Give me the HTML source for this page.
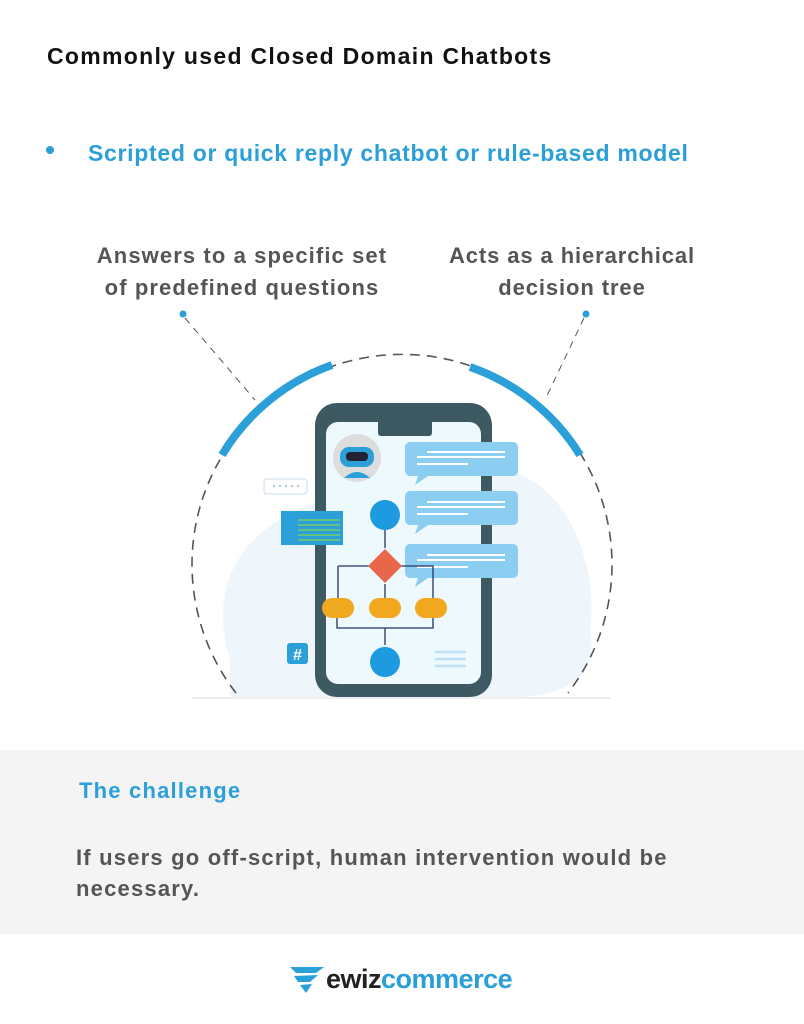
<!DOCTYPE html>
<html><head><style>
body{margin:0;width:804px;height:1024px;background:#fff;font-family:"Liberation Sans",sans-serif;position:relative;overflow:hidden}
.t{position:absolute;white-space:nowrap}
</style></head><body>
<div class="t" style="left:47px;top:43px;font-size:23px;font-weight:bold;color:#111;letter-spacing:1.3px">Commonly used Closed Domain Chatbots</div>
<div class="t" style="left:46px;top:146px;width:8px;height:8px;border-radius:50%;background:#2a9fd8"></div>
<div class="t" style="left:88px;top:140px;font-size:23px;font-weight:bold;color:#2a9fd8;letter-spacing:0.7px">Scripted or quick reply chatbot or rule-based model</div>
<div class="t" style="left:82px;top:240px;width:320px;text-align:center;font-size:22px;font-weight:bold;color:#555;line-height:32px;letter-spacing:1.1px">Answers to a specific set<br>of predefined questions</div>
<div class="t" style="left:422px;top:240px;width:300px;text-align:center;font-size:22px;font-weight:bold;color:#555;line-height:32px;letter-spacing:0.9px">Acts as a hierarchical<br>decision tree</div>
<svg width="804" height="1024" style="position:absolute;left:0;top:0">
<path d="M230 660 C200 560 270 500 380 490 L480 470 C560 460 600 560 590 630 C600 680 560 695 520 697 L230 697Z" fill="#eef5fb"/>
<line x1="192" y1="698" x2="610" y2="698" stroke="#ddd"/>
<circle cx="183" cy="314" r="3.5" fill="#2a9fd8"/>
<circle cx="586" cy="314" r="3.5" fill="#2a9fd8"/>
<line x1="185" y1="318" x2="255" y2="400" stroke="#555" stroke-dasharray="7,6"/>
<line x1="584" y1="318" x2="545" y2="400" stroke="#555" stroke-dasharray="7,6"/>
<path d="M236 693 A210 210 0 1 1 568 693" fill="none" stroke="#555" stroke-width="1.6" stroke-dasharray="10,7"/>
<path d="M222 455 A210 210 0 0 1 332 365" fill="none" stroke="#2a9fd8" stroke-width="8"/>
<path d="M470 367 A210 210 0 0 1 580 455" fill="none" stroke="#2a9fd8" stroke-width="8"/>
<rect x="315" y="403" width="177" height="294" rx="22" fill="#3d5a63"/>
<rect x="326" y="422" width="155" height="262" rx="12" fill="#eef9fd"/>
<rect x="378" y="418" width="54" height="18" rx="3" fill="#3d5a63"/>
<circle cx="357" cy="458" r="24" fill="#ddd"/>
<rect x="340" y="447" width="34" height="20" rx="9" fill="#2a9fd8"/>
<rect x="346" y="452" width="22" height="9" rx="4" fill="#223"/>
<path d="M344 478 Q357 466 370 478 Z" fill="#2a9fd8"/>
<g fill="#8ccdf2">
<rect x="405" y="442" width="113" height="34" rx="5"/><path d="M418 476 L415 485 L428 476Z"/>
<rect x="405" y="491" width="113" height="34" rx="5"/><path d="M418 525 L415 534 L428 525Z"/>
<rect x="405" y="544" width="113" height="34" rx="5"/><path d="M418 578 L415 587 L428 578Z"/>
</g>
<g stroke="#fff" stroke-width="2"><line x1="427" y1="452" x2="505" y2="452"/><line x1="417" y1="457" x2="505" y2="457"/><line x1="417" y1="464" x2="468" y2="464"/>
<line x1="427" y1="502" x2="505" y2="502"/><line x1="417" y1="507" x2="505" y2="507"/><line x1="417" y1="514" x2="468" y2="514"/>
<line x1="427" y1="555" x2="505" y2="555"/><line x1="417" y1="560" x2="505" y2="560"/><line x1="417" y1="567" x2="468" y2="567"/></g>
<rect x="264" y="479" width="43" height="15" rx="3" fill="#fff" stroke="#cde"/>
<g fill="#bcd"><circle cx="274" cy="486" r="1.3"/><circle cx="280" cy="486" r="1.3"/><circle cx="286" cy="486" r="1.3"/><circle cx="292" cy="486" r="1.3"/><circle cx="298" cy="486" r="1.3"/></g>
<rect x="281" y="511" width="62" height="34" fill="#2a9fd8"/>
<g stroke="#7c6" stroke-width="1.5"><line x1="298" y1="520" x2="340" y2="520"/><line x1="298" y1="525" x2="340" y2="525"/><line x1="298" y1="530" x2="340" y2="530"/><line x1="298" y1="535" x2="340" y2="535"/><line x1="298" y1="540" x2="340" y2="540"/></g>
<rect x="287" y="643" width="21" height="21" rx="3" fill="#2a9fd8"/>
<text x="297.5" y="660" font-size="16" font-weight="bold" fill="#fff" text-anchor="middle" font-family="Liberation Sans">#</text>
<g stroke="#223366" stroke-width="1.3" fill="none"><line x1="385" y1="530" x2="385" y2="548"/><path d="M338 566 H372 M338 566 V598 M385 584 V598 M398 566 H433 V598"/><path d="M337 616 V628 H433 V616 M385 628 V645"/></g>
<circle cx="385" cy="515" r="15" fill="#1e9ae0"/>
<rect x="373" y="554" width="24" height="24" fill="#e8674a" transform="rotate(45 385 566)"/>
<g fill="#f0a81e"><rect x="322" y="598" width="32" height="20" rx="10"/><rect x="369" y="598" width="32" height="20" rx="10"/><rect x="415" y="598" width="32" height="20" rx="10"/></g>
<circle cx="385" cy="662" r="15" fill="#1e9ae0"/>
<g stroke="#bfe0f5" stroke-width="2.5"><line x1="435" y1="652" x2="466" y2="652"/><line x1="435" y1="659" x2="466" y2="659"/><line x1="435" y1="666" x2="466" y2="666"/></g>
</svg>
<div class="t" style="left:0;top:750px;width:804px;height:184px;background:#f4f4f4"></div>
<div class="t" style="left:79px;top:778px;font-size:22px;font-weight:bold;color:#2a9fd8;letter-spacing:1.2px">The challenge</div>
<div class="t" style="left:76px;top:842px;font-size:22px;font-weight:bold;color:#555;line-height:31px;letter-spacing:1.2px">If users go off-script, human intervention would be<br>necessary.</div>
<svg width="40" height="30" style="position:absolute;left:288px;top:965px"><path d="M2 2 L36 2 L28 8 L8 8Z M6 11 L30 10 L22 17 L10 17Z M12 20 L24 19 L18 28Z" fill="#2a9fd8"/></svg>
<div class="t" style="left:326px;top:964px;font-size:27px;font-weight:bold;letter-spacing:-0.5px"><span style="color:#222">ewiz</span><span style="color:#2a9fd8">commerce</span></div>
</body></html>
